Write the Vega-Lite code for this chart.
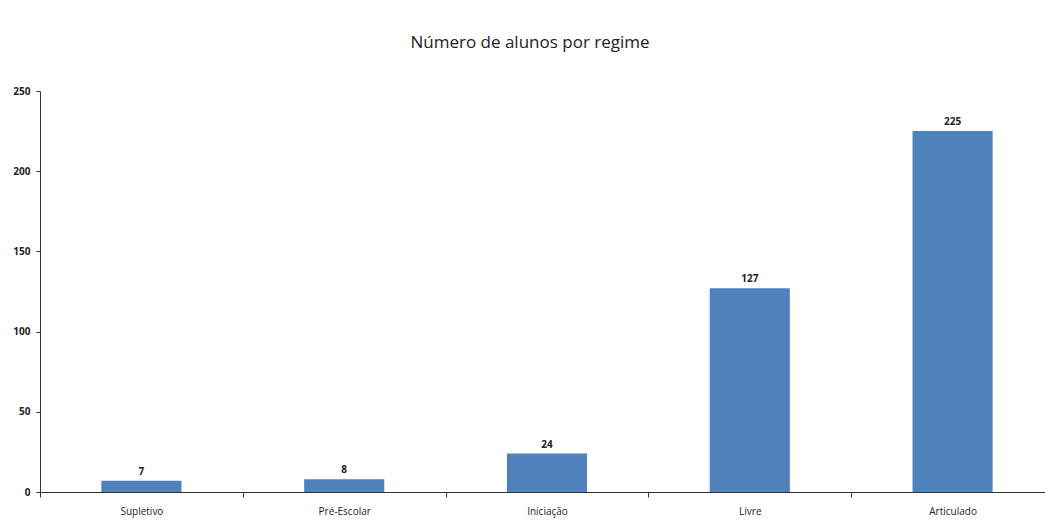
{
  "$schema": "https://vega.github.io/schema/vega-lite/v6.json",
  "autosize": {"type": "none"},
  "padding": {"left": 40, "top": 91, "right": 0, "bottom": 28},
  "width": 1014,
  "height": 401,
  "background": "white",
  "title": {
    "text": "Número de alunos por regime",
    "font": "Open Sans",
    "fontSize": 17,
    "fontWeight": "normal",
    "color": "#222222",
    "offset": 34,
    "dx": -17
  },
  "data": {
    "values": [
      {"regime": "Supletivo", "alunos": 7},
      {"regime": "Pré-Escolar", "alunos": 8},
      {"regime": "Iniciação", "alunos": 24},
      {"regime": "Livre", "alunos": 127},
      {"regime": "Articulado", "alunos": 225}
    ]
  },
  "config": {"view": {"stroke": null}},
  "encoding": {
    "x": {
      "field": "regime",
      "type": "nominal",
      "sort": null,
      "scale": {"paddingInner": 0, "paddingOuter": 0},
      "axis": {
        "title": null,
        "labelAngle": 0,
        "labelFont": "Open Sans",
        "labelFontSize": 10,
        "labelColor": "#222222",
        "labelPadding": 9,
        "tickBand": "extent",
        "tickSize": 5,
        "tickColor": "#333333",
        "domainColor": "#333333",
        "grid": false
      }
    },
    "y": {
      "field": "alunos",
      "type": "quantitative",
      "scale": {"domain": [0, 250]},
      "axis": {
        "title": null,
        "values": [0, 50, 100, 150, 200, 250],
        "labelFont": "Open Sans",
        "labelFontSize": 10,
        "labelFontWeight": "bold",
        "labelColor": "#222222",
        "labelPadding": 6,
        "tickSize": 4,
        "tickColor": "#333333",
        "domainColor": "#333333",
        "grid": false
      }
    }
  },
  "layer": [
    {"mark": {"type": "bar", "color": "#4F81BD", "width": {"band": 0.395}}},
    {
      "mark": {"type": "text", "dy": -9, "font": "Open Sans", "fontSize": 10, "fontWeight": "bold", "color": "#222222"},
      "encoding": {"text": {"field": "alunos", "type": "quantitative"}}
    }
  ]
}
